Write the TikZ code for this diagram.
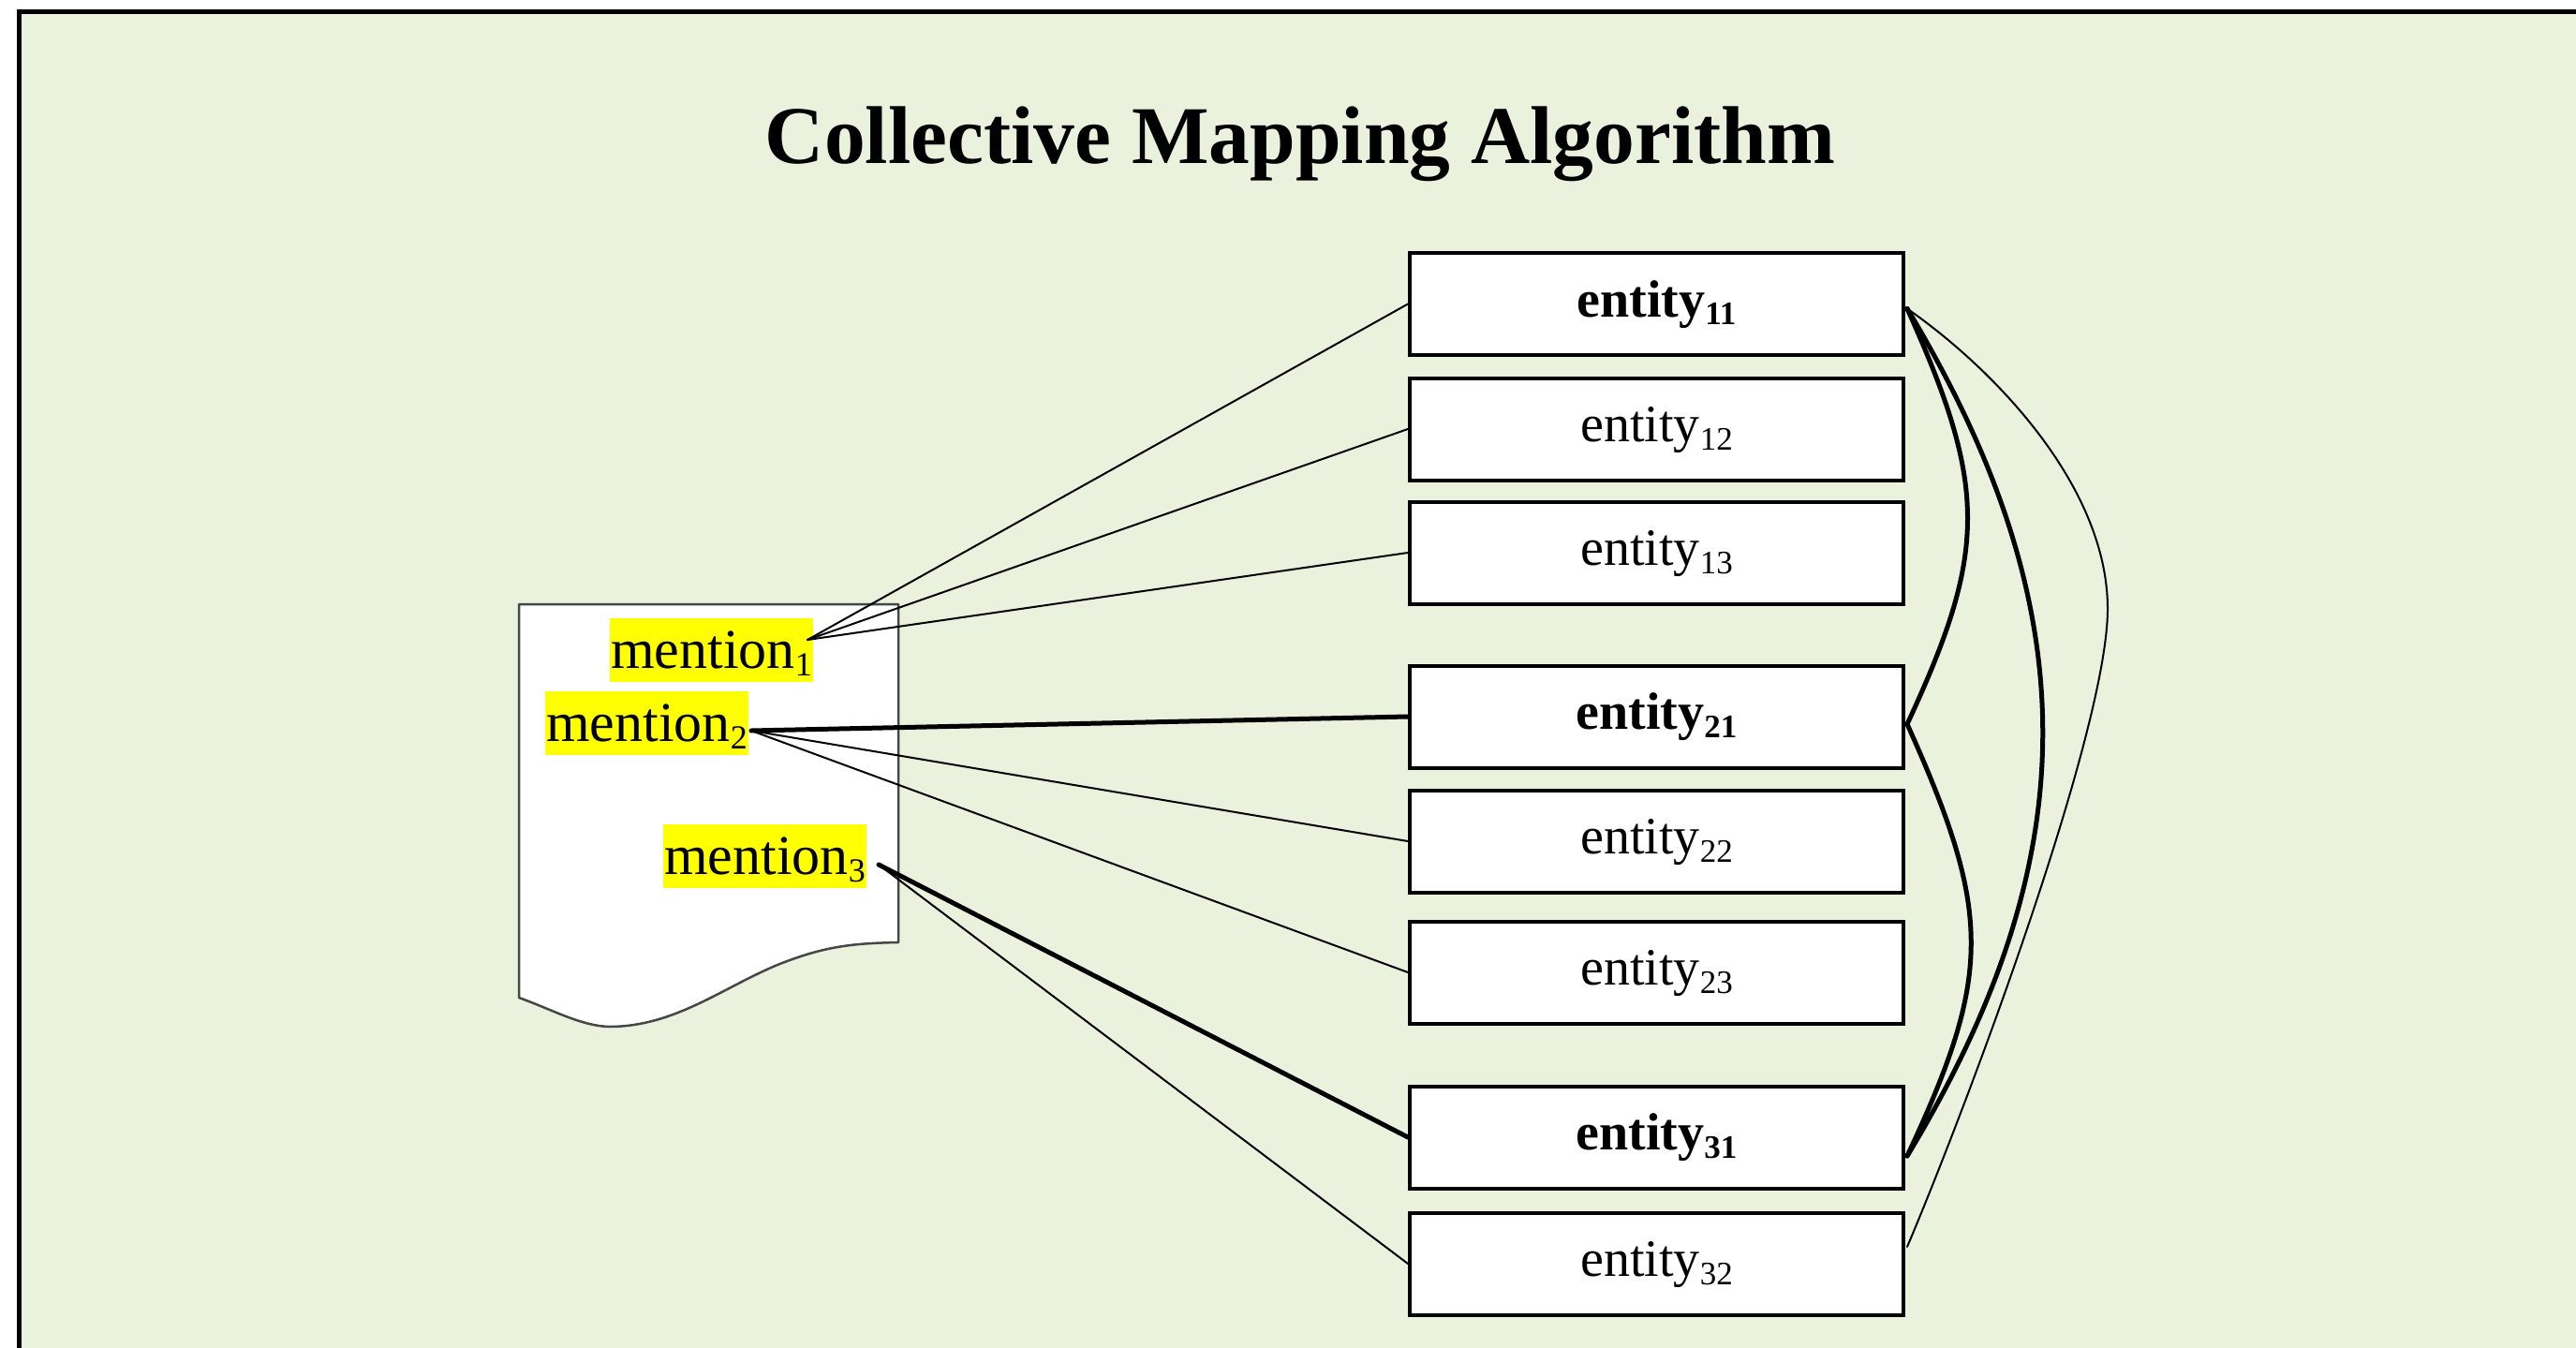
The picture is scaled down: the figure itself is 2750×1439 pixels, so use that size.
\documentclass[tikz,border=0pt]{standalone}
\usepackage{fontspec}
\setmainfont{Liberation Serif}
\usetikzlibrary{calc}
\definecolor{bggreen}{RGB}{234,241,221}
\definecolor{hlyellow}{RGB}{255,255,0}
\definecolor{docline}{RGB}{70,70,70}
\newcommand\msub[1]{\raisebox{-8pt}{\fontsize{36}{36}\selectfont #1}}
\newcommand\esub[1]{\raisebox{-9pt}{\fontsize{35}{35}\selectfont #1}}
\begin{document}
\begin{tikzpicture}[x=1pt,y=-1pt,
  entbox/.style={draw=black,line width=4pt,fill=white,minimum width=527pt,minimum height=109pt,
    inner sep=0pt,text height=41pt,text depth=14pt,font=\fontsize{56}{62}\selectfont},
  ment/.style={fill=hlyellow,inner xsep=1pt,inner ysep=0pt,text height=53pt,text depth=15pt,
    font=\fontsize{60}{66}\selectfont,anchor=west},
  thinlink/.style={line width=2pt,line cap=round},
  thicklink/.style={line width=5pt,line cap=round},
  docshape/.style={draw=docline,line width=2.5pt,fill=white,line join=round}]
\useasboundingbox (0,0) rectangle (2750,1439);
\clip (0,0) rectangle (2750,1439);
\fill[white] (0,0) rectangle (2750,1439);
\fill[bggreen] (20.5,12.5) rectangle (2800,1500);
\draw[line width=5pt] (20.5,1500) -- (20.5,12.5) -- (2800,12.5);

\node[font=\fontsize{87.5}{100}\selectfont\bfseries,anchor=base,inner sep=0pt] (title) at (1388,175) {Collective Mapping Algorithm};

% document shape
\draw[docshape] (554,645) -- (959,645) -- (959,1006)
  .. controls (910,1007) and (880,1010) .. (830,1030)
  .. controls (770,1055) and (720,1096) .. (650,1096)
  .. controls (620,1095) and (590,1078) .. (554,1065) -- cycle;

% mentions
\node[ment] (m1) at (651,694) {mention\msub{1}};
\node[ment] (m2) at (582,772) {mention\msub{2}};
\node[ment] (m3) at (708,914) {mention\msub{3}};
\coordinate (m1p) at ($(m1.east)+(-6,-11)$);
\coordinate (m2p) at ($(m2.east)+(3,8)$);
\coordinate (m3p) at ($(m3.east)+(13,9)$);

% entities
\node[entbox] (e11) at (1768.5,324.5) {\bfseries entity\esub{11}};
\node[entbox] (e12) at (1768.5,458) {entity\esub{12}};
\node[entbox] (e13) at (1768.5,590) {entity\esub{13}};
\node[entbox] (e21) at (1768.5,765) {\bfseries entity\esub{21}};
\node[entbox] (e22) at (1768.5,898) {entity\esub{22}};
\node[entbox] (e23) at (1768.5,1038) {entity\esub{23}};
\node[entbox] (e31) at (1768.5,1214) {\bfseries entity\esub{31}};
\node[entbox] (e32) at (1768.5,1349) {entity\esub{32}};

% mention-entity links
\draw[thinlink] (m1p) -- (e11.west);
\draw[thinlink] (m1p) -- (e12.west);
\draw[thinlink] (m1p) -- (e13.west);
\draw[thicklink] (m2p) -- (e21.west);
\draw[thinlink] (m2p) -- (e22.west);
\draw[thinlink] (m2p) -- (e23.west);
\draw[thicklink] (m3p) -- (e31.west);
\draw[thinlink] (m3p) -- (e32.west);

% entity-entity links
\coordinate (r11) at ($(e11.east)+(2,5)$);
\coordinate (r21) at ($(e21.east)+(2,8)$);
\coordinate (r31) at ($(e31.east)+(2,20)$);
\coordinate (r32) at ($(e32.east)+(2,-18)$);
\draw[thicklink] (r11) .. controls (2122,520) and (2122,588) .. (r21);
\draw[thicklink] (r21) .. controls (2127,975) and (2127,1040) .. (r31);
\draw[thicklink] (r11) .. controls (2229,650) and (2229,915) .. (r31);
\draw[thinlink] (r11) .. controls (2130,395) and (2250,520) .. (2250,650)
  .. controls (2250,780) and (2100,1180) .. (r32);
\end{tikzpicture}
\end{document}
